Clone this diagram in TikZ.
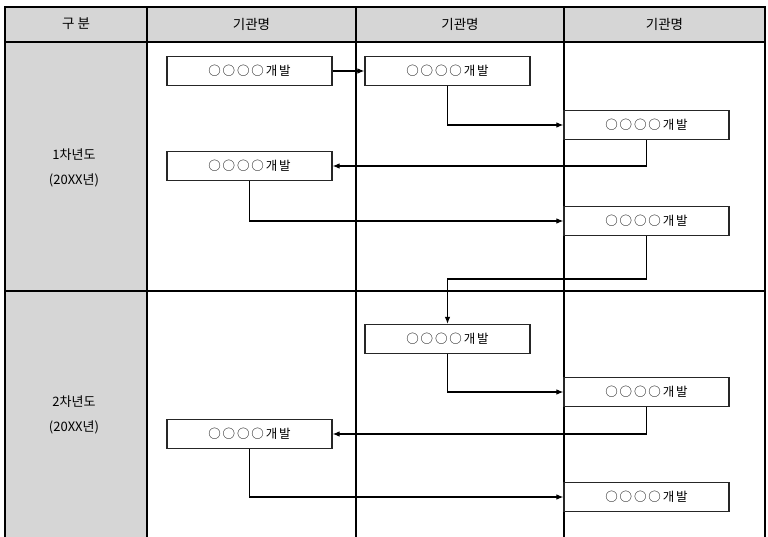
\documentclass[tikz,border=0pt]{standalone}
\usepackage{fontspec}
\setmainfont{Noto Sans CJK KR}
\newfontfamily\boxfont[LetterSpace=15]{Noto Sans CJK KR}
\usetikzlibrary{arrows.meta}
\definecolor{cellgray}{HTML}{D6D6D6}
\tikzset{
  gridline/.style={line width=1.4pt, black},
  devbox/.style={draw=black!85, line width=1.2pt, fill=white, minimum width=165pt, minimum height=29pt, inner sep=0pt, font=\boxfont\fontsize{12.5}{14}\selectfont},
  headtxt/.style={inner sep=0pt, font=\fontsize{13.5}{15}\selectfont},
  yeartxt/.style={inner sep=0pt, align=center, font=\fontsize{13}{25}\selectfont},
  flow/.style={line width=1.1pt, black, -{Latex[length=7pt,width=5.5pt]}}
}
\begin{document}
\begin{tikzpicture}[x=1pt,y=-1pt]
\useasboundingbox (0,0) rectangle (768,537);
% fills
\fill[cellgray] (5,7) rectangle (765,42);
\fill[cellgray] (5,42) rectangle (147,537);
% grid
\draw[gridline] (5,537) -- (5,7) -- (765,7) -- (765,537);
\draw[gridline] (5,42) -- (765,42);
\draw[gridline] (5,291) -- (765,291);
\draw[gridline] (147,7) -- (147,537);
\draw[gridline] (356,7) -- (356,537);
\draw[gridline] (564,7) -- (564,537);
% header
\node[headtxt] (h0) at (76,24) {구 분};
\node[headtxt] (h1) at (251.5,24) {기관명};
\node[headtxt] (h2) at (460,24) {기관명};
\node[headtxt] (h3) at (664.5,24) {기관명};
% year labels
\node[yeartxt] (y1) at (74,168) {1차년도\\(20XX년)};
\node[yeartxt] (y2) at (74,415) {2차년도\\(20XX년)};
% boxes
\node[devbox] (b1) at (249.5,71) {○○○○개발};
\node[devbox] (b2) at (447.5,71) {○○○○개발};
\node[devbox] (b3) at (646.5,125) {○○○○개발};
\node[devbox] (b4) at (249.5,166) {○○○○개발};
\node[devbox] (b5) at (646.5,221) {○○○○개발};
\node[devbox] (b6) at (447.5,339) {○○○○개발};
\node[devbox] (b7) at (646.5,392) {○○○○개발};
\node[devbox] (b8) at (249.5,434) {○○○○개발};
\node[devbox] (b9) at (646.5,497) {○○○○개발};
% connectors
\coordinate (t1) at (447.5,279);
\draw[flow] (b1.east) -- (b2.west);
\draw[flow] (b2.south) |- (b3.west);
\draw[flow] (b3.south) |- (b4.east);
\draw[flow] (b4.south) |- (b5.west);
\draw[flow] (b5.south) |- (t1) -- (b6.north);
\draw[flow] (b6.south) |- (b7.west);
\draw[flow] (b7.south) |- (b8.east);
\draw[flow] (b8.south) |- (b9.west);
\end{tikzpicture}
\end{document}
